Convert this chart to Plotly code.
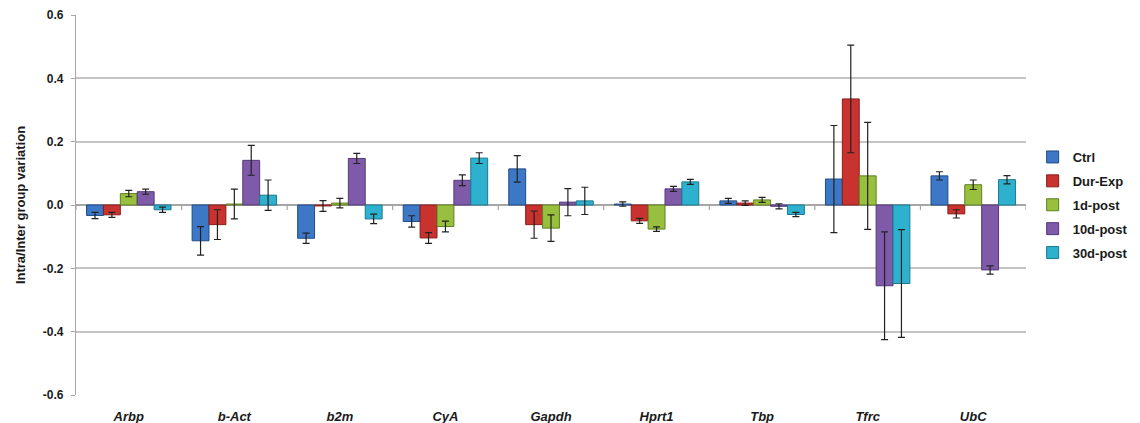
import plotly.graph_objects as go

genes = ["Arbp", "b-Act", "b2m", "CyA", "Gapdh", "Hprt1", "Tbp", "Tfrc", "UbC"]
groups = ["Ctrl", "Dur-Exp", "1d-post", "10d-post", "30d-post"]

# mean intra/inter group variation per gene, one list per group
ctrl = [-0.033, -0.113, -0.105, -0.052, 0.114, 0.003, 0.013, 0.082, 0.092]
dur_exp = [-0.031, -0.062, -0.003, -0.104, -0.062, -0.050, 0.006, 0.335, -0.028]
post_1d = [0.036, 0.003, 0.006, -0.068, -0.073, -0.076, 0.016, 0.092, 0.064]
post_10d = [0.042, 0.141, 0.147, 0.078, 0.009, 0.051, -0.004, -0.255, -0.205]
post_30d = [-0.015, 0.031, -0.044, 0.148, 0.013, 0.073, -0.030, -0.248, 0.080]

# standard errors
ctrl_err = [0.010, 0.045, 0.016, 0.018, 0.042, 0.007, 0.008, 0.169, 0.013]
dur_exp_err = [0.008, 0.047, 0.017, 0.017, 0.043, 0.008, 0.007, 0.170, 0.013]
post_1d_err = [0.010, 0.047, 0.015, 0.017, 0.042, 0.007, 0.008, 0.169, 0.015]
post_10d_err = [0.008, 0.047, 0.016, 0.017, 0.043, 0.008, 0.008, 0.170, 0.013]
post_30d_err = [0.008, 0.048, 0.015, 0.017, 0.043, 0.008, 0.007, 0.170, 0.013]

y_ticks = [-0.6, -0.4, -0.2, 0.0, 0.2, 0.4, 0.6]
y_tick_labels = ["-0.6", "-0.4", "-0.2", "0.0", "0.2", "0.4", "0.6"]

series = [ctrl, dur_exp, post_1d, post_10d, post_30d]
errors = [ctrl_err, dur_exp_err, post_1d_err, post_10d_err, post_30d_err]
fills = ["#3d78c6", "#c9332f", "#98bf3e", "#7f5aa8", "#2eb1cf"]
edges = ["#1f4c85", "#8a1c1a", "#5f7f20", "#53397a", "#1a7a91"]

FONT = "Arial, 'Liberation Sans', sans-serif"

fig = go.Figure()
for i, name in enumerate(groups):
    fig.add_trace(go.Bar(
        name=name,
        x=genes,
        y=series[i],
        legendgroup=name,
        marker=dict(color=fills[i], line=dict(color=edges[i], width=1)),
        error_y=dict(type="data", array=errors[i], visible=True,
                     color="#222222", thickness=1.2, width=3.5),
    ))

# small category-boundary ticks on the zero axis
shapes = []
for k in range(len(genes) + 1):
    shapes.append(dict(type="line", xref="x", yref="y",
                       x0=k - 0.5, x1=k - 0.5, y0=0, y1=-0.016,
                       line=dict(color="#a6a6a6", width=1.2), layer="below"))

fig.update_layout(
    width=1140, height=423,
    margin=dict(l=76, r=114, t=15, b=28, autoexpand=False),
    paper_bgcolor="white", plot_bgcolor="white",
    barmode="group", bargap=0.2, bargroupgap=0.0,
    font=dict(family=FONT, color="#1a1a1a"),
    shapes=shapes,
    legend=dict(
        x=1.007, y=0.5, xanchor="left", yanchor="middle",
        font=dict(family=FONT, size=13, weight="bold", color="#1a1a1a"),
        tracegroupgap=4, itemwidth=30, traceorder="grouped",
        bgcolor="rgba(0,0,0,0)",
    ),
    xaxis=dict(
        range=[-0.5, len(genes) - 0.5], automargin=False,
        showgrid=False, showline=False, zeroline=False,
        ticks="", tickfont=dict(family=FONT, size=13, weight="bold",
                               style="italic", color="#1a1a1a"),
        ticklabelstandoff=12,
    ),
    yaxis=dict(
        range=[-0.6, 0.6], tickvals=y_ticks, ticktext=y_tick_labels,
        automargin=False,
        showgrid=True, gridcolor="#c4c4c4", gridwidth=1.5,
        zeroline=True, zerolinecolor="#a6a6a6", zerolinewidth=1.5,
        showline=True, linecolor="#a6a6a6", linewidth=1.2,
        ticks="outside", ticklen=4, tickcolor="#a6a6a6",
        ticklabelstandoff=5,
        tickfont=dict(family=FONT, size=12, weight="bold", color="#1a1a1a"),
        title=dict(text="Intra/Inter group variation", standoff=14,
                   font=dict(family=FONT, size=13, weight="bold", color="#1a1a1a")),
    ),
)

fig.write_html("out.html")
